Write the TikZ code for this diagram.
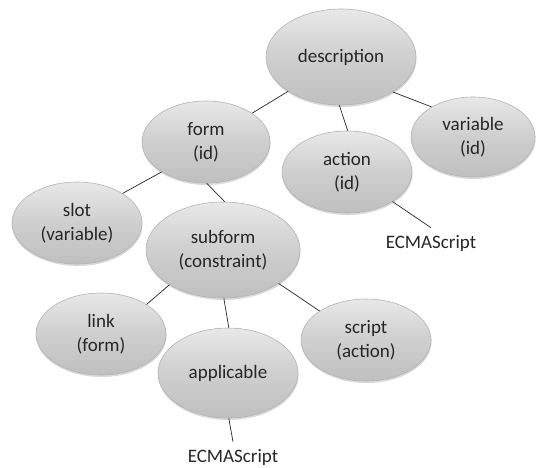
\documentclass[tikz,border=0pt]{standalone}
\usepackage{fontspec}
\setmainfont{Carlito}
\usetikzlibrary{shapes.geometric,shadows}

\tikzset{
  ell/.style={ellipse, draw=gray!60, line width=0.6pt,
    top color=gray!18, bottom color=gray!50, middle color=gray!38,
    drop shadow={shadow xshift=0.5pt, shadow yshift=-2pt, opacity=.3},
    inner sep=0pt, align=center, text=black!85,
    font=\fontsize{19}{24}\selectfont},
  lbl/.style={inner sep=7pt, text=black!85, font=\fontsize{19}{24}\selectfont},
  ln/.style={line width=0.7pt, black!85}
}

\begin{document}
\begin{tikzpicture}[x=1pt,y=-1pt]
  \useasboundingbox (0,0) rectangle (537,467);

  \node (desc) [ell,minimum width=150,minimum height=96] at (341,57) {description};
  \node (form) [ell,minimum width=128,minimum height=82] at (206,142) {form\\(id)};
  \node (action) [ell,minimum width=130,minimum height=82] at (347,172) {action\\(id)};
  \node (var) [ell,minimum width=124,minimum height=80] at (473,137) {variable\\(id)};
  \node (slot) [ell,minimum width=130,minimum height=82] at (77,223) {slot\\(variable)};
  \node (subform) [ell,minimum width=154,minimum height=96] at (223,250) {subform\\(constraint)};
  \node (link) [ell,minimum width=130,minimum height=82] at (101,334) {link\\(form)};
  \node (appl) [ell,minimum width=140,minimum height=90] at (228,373) {applicable};
  \node (script) [ell,minimum width=130,minimum height=82] at (366,340) {script\\(action)};

  \node (ecmaA) [lbl] at (431,243) {ECMAScript};
  \node (ecmaB) [lbl] at (233,457) {ECMAScript};

  \path [ln]
    (desc.213) edge (form.32)
    (desc.268) edge (action.89)
    (desc.-34) edge (var.144)
    (form.214) edge (slot.33)
    (form.-89) edge (subform.88)
    (action.-33) edge (ecmaA.north)
    (subform.213) edge (link.33)
    (subform.-89) edge (appl.89)
    (subform.-31) edge (script.148)
    (appl.-89) edge (ecmaB.north);
\end{tikzpicture}
\end{document}
